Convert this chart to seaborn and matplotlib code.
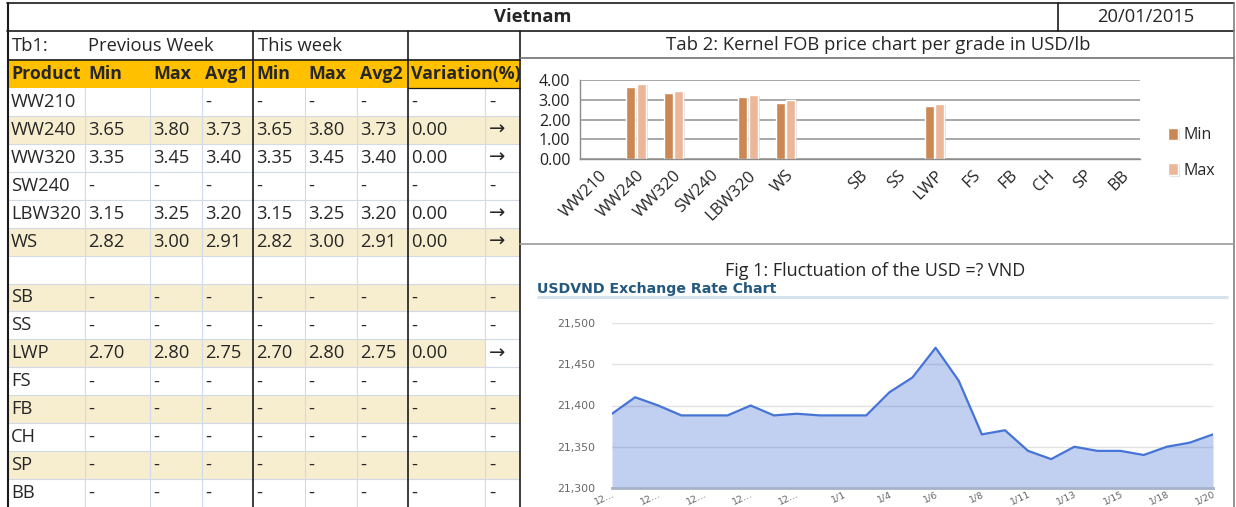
import numpy as np
import pandas as pd
import matplotlib
matplotlib.use("Agg")
import matplotlib.pyplot as plt
import matplotlib.patheffects as pe
from matplotlib.patches import Rectangle
import seaborn as sns

sns.set_style("white")
plt.rcParams['font.family'] = ['Open Sans', 'DejaVu Sans']

# ---------------- data ----------------
country = "Vietnam"
report_date = "20/01/2015"
tb1_label = "Tb1:"
prev_label = "Previous Week"
this_label = "This week"
headers = ["Product", "Min", "Max", "Avg1", "Min", "Max", "Avg2", "Variation(%)"]

products = ["WW210", "WW240", "WW320", "SW240", "LBW320", "WS", "", "SB", "SS",
            "LWP", "FS", "FB", "CH", "SP", "BB"]
prev_min = ["", "3.65", "3.35", "-", "3.15", "2.82", "", "-", "-", "2.70", "-", "-", "-", "-", "-"]
prev_max = ["", "3.80", "3.45", "-", "3.25", "3.00", "", "-", "-", "2.80", "-", "-", "-", "-", "-"]
prev_avg = ["-", "3.73", "3.40", "-", "3.20", "2.91", "", "-", "-", "2.75", "-", "-", "-", "-", "-"]
this_min = ["-", "3.65", "3.35", "-", "3.15", "2.82", "", "-", "-", "2.70", "-", "-", "-", "-", "-"]
this_max = ["-", "3.80", "3.45", "-", "3.25", "3.00", "", "-", "-", "2.80", "-", "-", "-", "-", "-"]
this_avg = ["-", "3.73", "3.40", "-", "3.20", "2.91", "", "-", "-", "2.75", "-", "-", "-", "-", "-"]
variation = ["-", "0.00", "0.00", "-", "0.00", "0.00", "", "-", "-", "0.00", "-", "-", "-", "-", "-"]
trend = ["-", "→", "→", "-", "→", "→", "", "-", "-", "→", "-", "-", "-", "-", "-"]
# 0 = white, 1 = shaded row, 2 = shaded except last cell
row_shade = [0, 1, 0, 0, 0, 1, 0, 1, 0, 2, 0, 1, 0, 1, 0]

bar_title = "Tab 2: Kernel FOB price chart per grade in USD/lb"
series_names = ["Min", "Max"]

fig_title = "Fig 1: Fluctuation of the USD =? VND"
fx_title = "USDVND Exchange Rate Chart"
fx_rates = [21390, 21410, 21400, 21388, 21388, 21388, 21400, 21388, 21390, 21388,
            21388, 21388, 21416, 21434, 21470, 21430, 21365, 21370, 21345, 21335,
            21350, 21345, 21345, 21340, 21350, 21355, 21365]
fx_tick_labels = ["12…", "12…", "12…", "12…", "12…", "1/1", "1/4", "1/6", "1/8",
                  "1/11", "1/13", "1/15", "1/18", "1/20"]

# ---------------- figure ----------------
W, H = 1236, 507
fig = plt.figure(figsize=(W / 100, H / 100), dpi=100)


def frac(l, t, r, b):
    return [l / W, 1 - b / H, (r - l) / W, (b - t) / H]


bg = fig.add_axes([0, 0, 1, 1])
bg.set_xlim(0, W)
bg.set_ylim(H, 0)
bg.axis("off")

FS = 13.2
cols = [8, 85, 150, 202, 253, 305, 357, 408, 485, 520]
row_top = 88
row_h = (507 - 88) / len(products)
shade_c = "#F7EDCF"
light = "#D3DAE7"

# header fill
bg.add_patch(Rectangle((8, 60), 512, 28, color="#FFC000", lw=0))
for i, s in enumerate(row_shade):
    y0 = row_top + i * row_h
    if s == 1:
        bg.add_patch(Rectangle((8, y0), 512, row_h, color=shade_c, lw=0))
    elif s == 2:
        bg.add_patch(Rectangle((8, y0), 485 - 8, row_h, color=shade_c, lw=0))

# light grid
for i in range(1, len(products)):
    y = row_top + i * row_h
    bg.plot([8, 520], [y, y], color=light, lw=0.8)
for x in [85, 150, 202, 305, 357, 485]:
    bg.plot([x, x], [88, 507], color=light, lw=0.8)

# dark borders
blk = "#1A1A1A"
bg.plot([7, 1234], [3, 3], color=blk, lw=1.2)
bg.plot([7, 1234], [31, 31], color=blk, lw=1.2)
bg.plot([8, 520], [60, 60], color=blk, lw=1.2)
bg.plot([408, 520], [88, 88], color=blk, lw=0.9)
bg.plot([7.5, 7.5], [3, 507], color=blk, lw=1.5)
bg.plot([1058, 1058], [3, 31], color=blk, lw=1.2)
for x in [253, 408, 520]:
    bg.plot([x, x], [31, 507], color=blk, lw=1.2)
bg.plot([1234, 1234], [3, 507], color="#7F7F7F", lw=1.2)
bg.plot([520, 1234], [58, 58], color="#6F6F6F", lw=1.2)
bg.plot([520, 1234], [244, 244], color="#9A9A9A", lw=1.2)

# title row
bg.text(533, 17, country, ha="center", va="center", fontsize=FS, fontweight="bold")
bg.text(1146, 17, report_date, ha="center", va="center", fontsize=FS)
# row 2
bg.text(12, 46, tb1_label, va="center", fontsize=FS)
bg.text(88, 46, prev_label, va="center", fontsize=FS)
bg.text(258, 46, this_label, va="center", fontsize=FS)
# header
for j, h in enumerate(headers):
    bg.text(cols[j] + 3, 74, h, va="center", fontsize=FS - 0.4, fontweight="bold")
# body
for i in range(len(products)):
    yc = row_top + (i + 0.5) * row_h
    cells = [products[i], prev_min[i], prev_max[i], prev_avg[i], this_min[i],
             this_max[i], this_avg[i], variation[i], trend[i]]
    for j, c in enumerate(cells):
        if c == "":
            continue
        x = cols[j] + 3 if j < 8 else 489
        bg.text(x, yc, c, va="center", fontsize=FS if j < 8 else 14)

# right-side titles
bg.text(878, 45, bar_title, ha="center", va="center", fontsize=13.3)
bg.text(875, 271, fig_title, ha="center", va="center", fontsize=13)
bg.text(537, 289, fx_title, ha="left", va="center", fontsize=10.2,
        fontweight="bold", color="#24587F", family="DejaVu Sans")
bg.plot([537, 1228], [297, 297], color="#D6E3EC", lw=2.2, solid_capstyle="butt")

# ---------------- bar chart ----------------
def to_num(v):
    try:
        return float(v)
    except ValueError:
        return np.nan

df = pd.DataFrame({
    "grade": products * 2,
    "series": [series_names[0]] * len(products) + [series_names[1]] * len(products),
    "price": [to_num(v) for v in this_min] + [to_num(v) for v in this_max],
})

ax1 = fig.add_axes(frac(580, 80, 1140, 159))
sns.barplot(data=df, x="grade", y="price", hue="series", order=products,
            hue_order=series_names, palette=["#DF8440", "#F9B48A"],
            width=0.54, gap=0.1, errorbar=None, ax=ax1)
for p in ax1.patches:
    p.set_path_effects([pe.SimplePatchShadow(offset=(1.5, -1), shadow_rgbFace="#C8C8C8", alpha=0.6),
                        pe.Normal()])
ax1.set_xlim(-0.5, len(products) - 0.5)
ax1.set_ylim(0, 4)
ax1.set_yticks([0, 1, 2, 3, 4])
ax1.set_yticklabels([f"{v:.2f}" for v in [0, 1, 2, 3, 4]])
ax1.set_xlabel("")
ax1.set_ylabel("")
ax1.set_facecolor("none")
ax1.yaxis.grid(True, color="#9A9A9A", lw=1.2)
ax1.set_axisbelow(True)
for s in ["top", "right"]:
    ax1.spines[s].set_visible(False)
for s in ["left", "bottom"]:
    ax1.spines[s].set_color("#8C8C8C")
    ax1.spines[s].set_linewidth(1.0)
ax1.set_xticks(np.arange(-0.5, len(products), 1), minor=True)
ax1.tick_params(axis="x", which="major", length=0, pad=6, labelsize=12)
ax1.tick_params(axis="x", which="minor", length=4, color="#8C8C8C", direction="out", width=1)
ax1.tick_params(axis="y", which="major", length=4, color="#8C8C8C", direction="out",
                labelsize=11.5, labelcolor="#222222", pad=3)
for lab in ax1.get_xticklabels():
    lab.set_rotation(45)
    lab.set_ha("right")
    lab.set_rotation_mode("anchor")
handles, labels = ax1.get_legend_handles_labels()
ax1.legend(handles, labels, loc="center left", bbox_to_anchor=(1.05, 0.076), frameon=False,
           handlelength=0.6, handleheight=0.8, labelspacing=1.2, fontsize=11.5,
           handletextpad=0.4, borderpad=0, borderaxespad=0)

# ---------------- exchange-rate chart ----------------
idx = np.arange(len(fx_rates))
line_c = "#4674D6"
ax2 = fig.add_axes(frac(612, 323, 1213, 488))
ax2.yaxis.grid(True, color="#E2E2E2", lw=1)
ax2.set_axisbelow(True)
ax2.fill_between(idx, fx_rates, 21300, color="#3E6AD2", alpha=0.32, lw=0)
sns.lineplot(x=idx, y=fx_rates, ax=ax2, color=line_c, lw=1.6)
ax2.set_xlim(0, len(fx_rates) - 1)
ax2.set_ylim(21300, 21500)
ax2.set_yticks(np.arange(21300, 21501, 50))
ax2.set_yticklabels([f"{v:,}" for v in range(21300, 21501, 50)])
ax2.set_xticks(idx[::2])
ax2.set_xticklabels(fx_tick_labels)
for s in ["top", "right", "left"]:
    ax2.spines[s].set_visible(False)
ax2.spines["bottom"].set_color("#A8B2C6")
ax2.spines["bottom"].set_linewidth(2)
ax2.set_facecolor("none")
ax2.tick_params(axis="y", length=0, pad=12, labelsize=7.8, labelcolor="#666666")
ax2.tick_params(axis="x", length=0, pad=1, labelsize=6.8, labelcolor="#666666")
for lab in ax2.get_yticklabels() + ax2.get_xticklabels():
    lab.set_family("DejaVu Sans")
for lab in ax2.get_xticklabels():
    lab.set_rotation(25)
    lab.set_ha("right")
    lab.set_rotation_mode("anchor")

fig.savefig("out.png", dpi=100)
